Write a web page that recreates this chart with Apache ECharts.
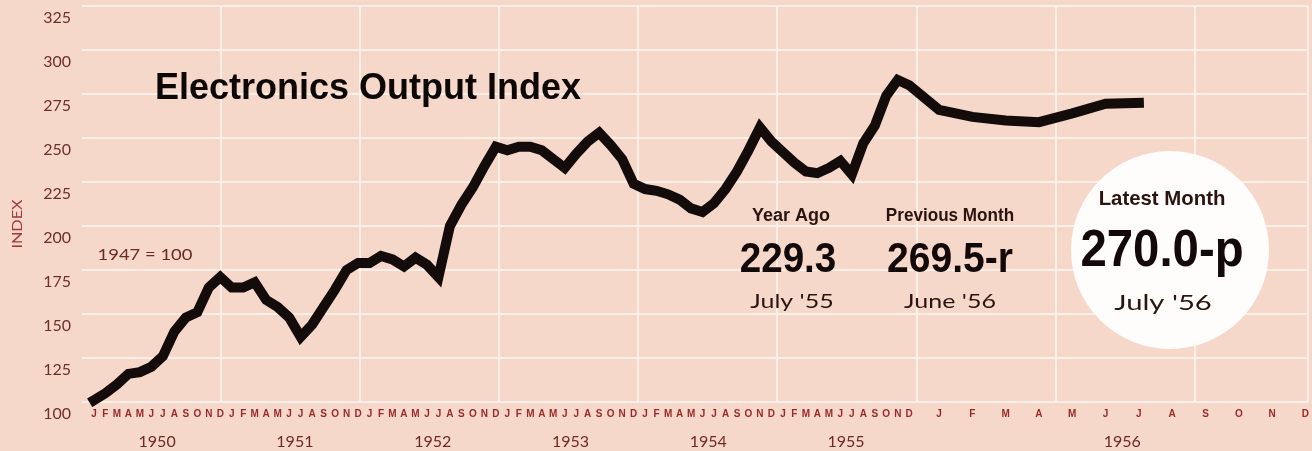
<!DOCTYPE html>
<html><head><meta charset="utf-8">
<script src="https://cdn.jsdelivr.net/npm/echarts@6/dist/echarts.min.js"></script>
<style>html,body{margin:0;padding:0;background:#f7dbcf}#c{width:1312px;height:451px}</style>
</head><body><div id="c"></div>
<script>
// ---- data ----
const years = ['1950','1951','1952','1953','1954','1955','1956'];
const monthLetters = ['J','F','M','A','M','J','J','A','S','O','N','D'];
const yTicks = [100,125,150,175,200,225,250,275,300,325];
const values1950 = [101,105,110,116,117,120,126,140,148,151,165,171];
const values1951 = [165,165,168,158,154,148,137,144,154,164,175,179];
const values1952 = [179,183,181,177,182,178,171,200,212,222,234,245];
const values1953 = [243,245,245,243,238,233,241,248,253,246,238,224];
const values1954 = [221,220,218,215,210,208,213,221,231,243,256,248];
const values1955 = [242,236,231,230,233,237,229.3,247,257,274,283,280];
const values1956 = [266,262,260,259,264,269.5,270.0];
const yearValues = [values1950,values1951,values1952,values1953,values1954,values1955,values1956];
const statLabels = ['Year Ago','Previous Month','Latest Month'];
const statValues = ['229.3','269.5-r','270.0-p'];
const statMonths = ["July '55","June '56","July '56"];

// ---- axis scale: 1950-55 one unit per month, 1956 spread wider ----
const compressedYears = 6, wideStart = 73.6, wideStep = 2.9;
function monthPos(y, m){ return y < compressedYears ? y*12 + m : wideStart + m*wideStep; }
const xMin = -1.04, xMax = 105.73;

const seriesData = [];
yearValues.forEach((arr, y) => arr.forEach((v, m) => seriesData.push([monthPos(y, m), v])));
const monthTickPos = [], monthTickLab = [];
years.forEach((yr, y) => monthLetters.forEach((L, m) => { monthTickPos.push(monthPos(y, m)); monthTickLab.push(L); }));
const yearTickPos = years.map((yr, y) => monthPos(y, 0) + (monthPos(y, 11) - monthPos(y, 0)) / 2);
function lookup(posArr, labArr, v){ for (let i=0;i<posArr.length;i++){ if (Math.abs(posArr[i]-v) < 1e-6) return labArr[i]; } return ''; }

const cond = '"Liberation Sans", Arial, sans-serif';
const geo = 'Lato, "Noto Sans", sans-serif';
function txt(x, y, text, font, fill, sx, z){
  return { type:'text', x:x, y:y, scaleX: sx || 1, z: z || 10,
    style:{ text:text, font:font, fill:fill, align:'center', verticalAlign:'middle', textAlign:'center', textVerticalAlign:'middle' } };
}

const chart = echarts.init(document.getElementById('c'), null, {renderer:'canvas'});
chart.setOption({
  backgroundColor:'#f6d8cb',
  animation:false,
  grid:{ left:82, right:0, top:6, bottom:49, containLabel:false },
  xAxis:[
    { type:'value', min:xMin, max:xMax, position:'bottom',
      axisLine:{show:false}, axisTick:{show:false}, splitLine:{show:false},
      axisLabel:{ customValues: monthTickPos, margin:7, fontSize:10, fontWeight:'bold', fontFamily:cond, color:'#9a2a2a',
        formatter: v => lookup(monthTickPos, monthTickLab, v) } },
    { type:'value', min:xMin, max:xMax, position:'bottom',
      axisLine:{show:false}, axisTick:{show:false}, splitLine:{show:false},
      axisLabel:{ customValues: yearTickPos, margin:32, fontSize:16, fontFamily:geo, color:'#6e2a20',
        formatter: v => lookup(yearTickPos, years, v) } },
    { type:'value', min:0, max:1230/139.5, interval:1, position:'top',
      axisLine:{show:false}, axisTick:{show:false}, axisLabel:{show:false},
      splitLine:{show:true, showMinLine:false, lineStyle:{color:'#fcefe8', width:2}} }
  ],
  yAxis:{ type:'value', min:yTicks[0], max:yTicks[yTicks.length-1], interval:25,
    axisLine:{show:false}, axisTick:{show:false},
    splitLine:{show:true, lineStyle:{color:'#fcefe8', width:2}},
    axisLabel:{ margin:11, fontSize:16, fontFamily:geo, color:'#6e2f26', verticalAlign:'top', lineHeight:24 } },
  series:[{ type:'line', xAxisIndex:0, data:seriesData, showSymbol:false, symbol:'none',
    lineStyle:{ color:'#140c0a', width:10, join:'miter', miterLimit:3, cap:'square' }, z:5 }],
  graphic:[
    txt(368, 89, 'Electronics Output Index', 'bold 36px '+cond, '#0d0806', 1.0),
    txt(145, 255, '1947 = 100', '16px '+geo, '#6b2a20', 1.15),
    { type:'text', x:18, y:224, rotation:Math.PI/2, scaleX:1.25, z:10,
      style:{ text:'INDEX', font:'13px '+geo, fill:'#a23838', align:'center', verticalAlign:'middle', textAlign:'center', textVerticalAlign:'middle' } },
    txt(791, 216, statLabels[0], 'bold 18px '+cond, '#2a1410', 1.0),
    txt(788, 260, statValues[0], 'bold 42px '+cond, '#120908', 0.92),
    txt(792, 302, statMonths[0], '20px '+geo, '#2a1410', 1.25),
    txt(950, 216, statLabels[1], 'bold 18px '+cond, '#2a1410', 0.95),
    txt(950, 260, statValues[1], 'bold 42px '+cond, '#120908', 0.93),
    txt(950, 302, statMonths[1], '20px '+geo, '#2a1410', 1.25),
    { type:'circle', shape:{cx:1170, cy:250, r:99}, style:{fill:'#fffdfb'}, z:8 },
    txt(1162, 199, statLabels[2], 'bold 21px '+cond, '#2a1410', 0.97),
    txt(1162, 252, statValues[2], 'bold 52px '+cond, '#120908', 0.91),
    txt(1163, 303, statMonths[2], '22px '+geo, '#2a1410', 1.33)
  ]
});
</script></body></html>
